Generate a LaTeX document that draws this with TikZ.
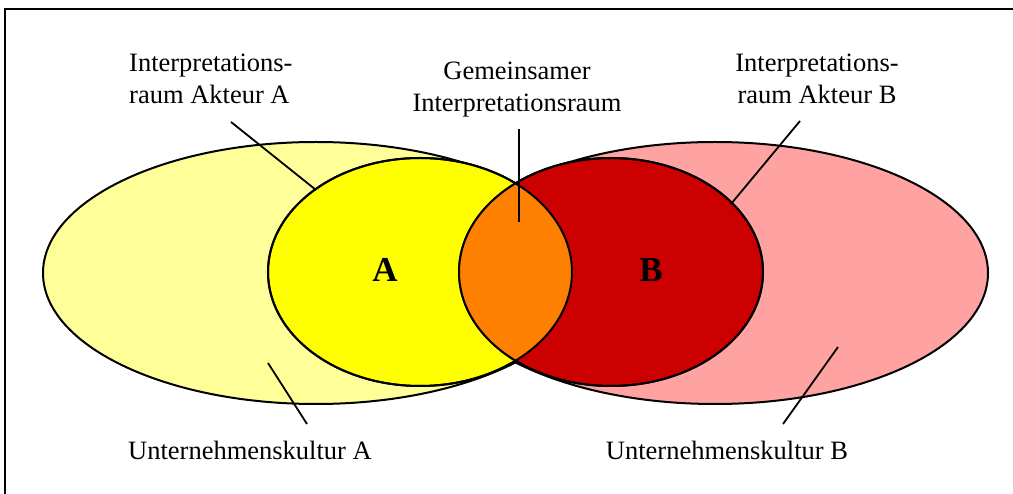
\documentclass[tikz,border=0pt]{standalone}
\usepackage{fontspec}
\setmainfont{Liberation Serif}
\usetikzlibrary{positioning}

\definecolor{hellgelb}{HTML}{FFFF99}
\definecolor{gelb}{HTML}{FFFF00}
\definecolor{orange}{HTML}{FF8000}
\definecolor{rot}{HTML}{CC0000}
\definecolor{rosa}{HTML}{FFA2A2}

\begin{document}
\begin{tikzpicture}[x=1pt, y=-1pt,
    txt/.style={font=\fontsize{26.5}{31.5}\selectfont, inner sep=0pt},
    big/.style={font=\fontsize{35}{40}\selectfont\bfseries, inner sep=0pt},
    outl/.style={draw=black, line width=2pt},
    leader/.style={draw=black, line width=1.8pt}]
  \useasboundingbox (0,0) rectangle (1013,494);
  % Rahmen
  \draw[line width=2.2pt] (5,494) -- (5,9) -- (1013,9);

  % Unternehmenskulturen
  \filldraw[outl, fill=hellgelb] (316,273) ellipse [x radius=273pt, y radius=131pt];
  \filldraw[outl, fill=rosa] (715,273) ellipse [x radius=273pt, y radius=131pt];
  % Interpretationsraeume
  \filldraw[outl, fill=gelb] (420,272) ellipse [x radius=152pt, y radius=114pt];
  \filldraw[outl, fill=rot] (611,272) ellipse [x radius=152pt, y radius=114pt];
  % gemeinsamer Raum
  \begin{scope}
    \clip (420,272) ellipse [x radius=152pt, y radius=114pt];
    \fill[orange] (611,272) ellipse [x radius=152pt, y radius=114pt];
  \end{scope}
  \draw[outl] (420,272) ellipse [x radius=152pt, y radius=114pt];
  \draw[outl] (611,272) ellipse [x radius=152pt, y radius=114pt];

  \node[big] (A) at (385,270) {A};
  \node[big] (B) at (651,270) {B};

  % Beschriftungen
  \node[txt, anchor=north west, align=left] (raumA) at (129,54) {Interpretations-\\raum Akteur A};
  \node[txt, anchor=north, align=center] (gemeinsam) at (517,62) {Gemeinsamer\\Interpretationsraum};
  \node[txt, anchor=north, align=center] (raumB) at (817,54) {Interpretations-\\raum Akteur B};
  \node[txt, anchor=base] (kulturA) at (250,460) {Unternehmenskultur A};
  \node[txt, anchor=base] (kulturB) at (727,460) {Unternehmenskultur B};

  % Hinweislinien
  \coordinate (ra1) at (231,122);
  \coordinate (ra2) at (316,190);
  \coordinate (gm1) at (519,129);
  \coordinate (gm2) at (519,222);
  \coordinate (rb1) at (800,121);
  \coordinate (rb2) at (731,204);
  \coordinate (ka1) at (307,424);
  \coordinate (ka2) at (268,363);
  \coordinate (kb1) at (783,424);
  \coordinate (kb2) at (838,347);
  \draw[leader] (ra1) -- (ra2);
  \draw[leader] (gm1) -- (gm2);
  \draw[leader] (rb1) -- (rb2);
  \draw[leader] (ka1) -- (ka2);
  \draw[leader] (kb1) -- (kb2);
\end{tikzpicture}
\end{document}
